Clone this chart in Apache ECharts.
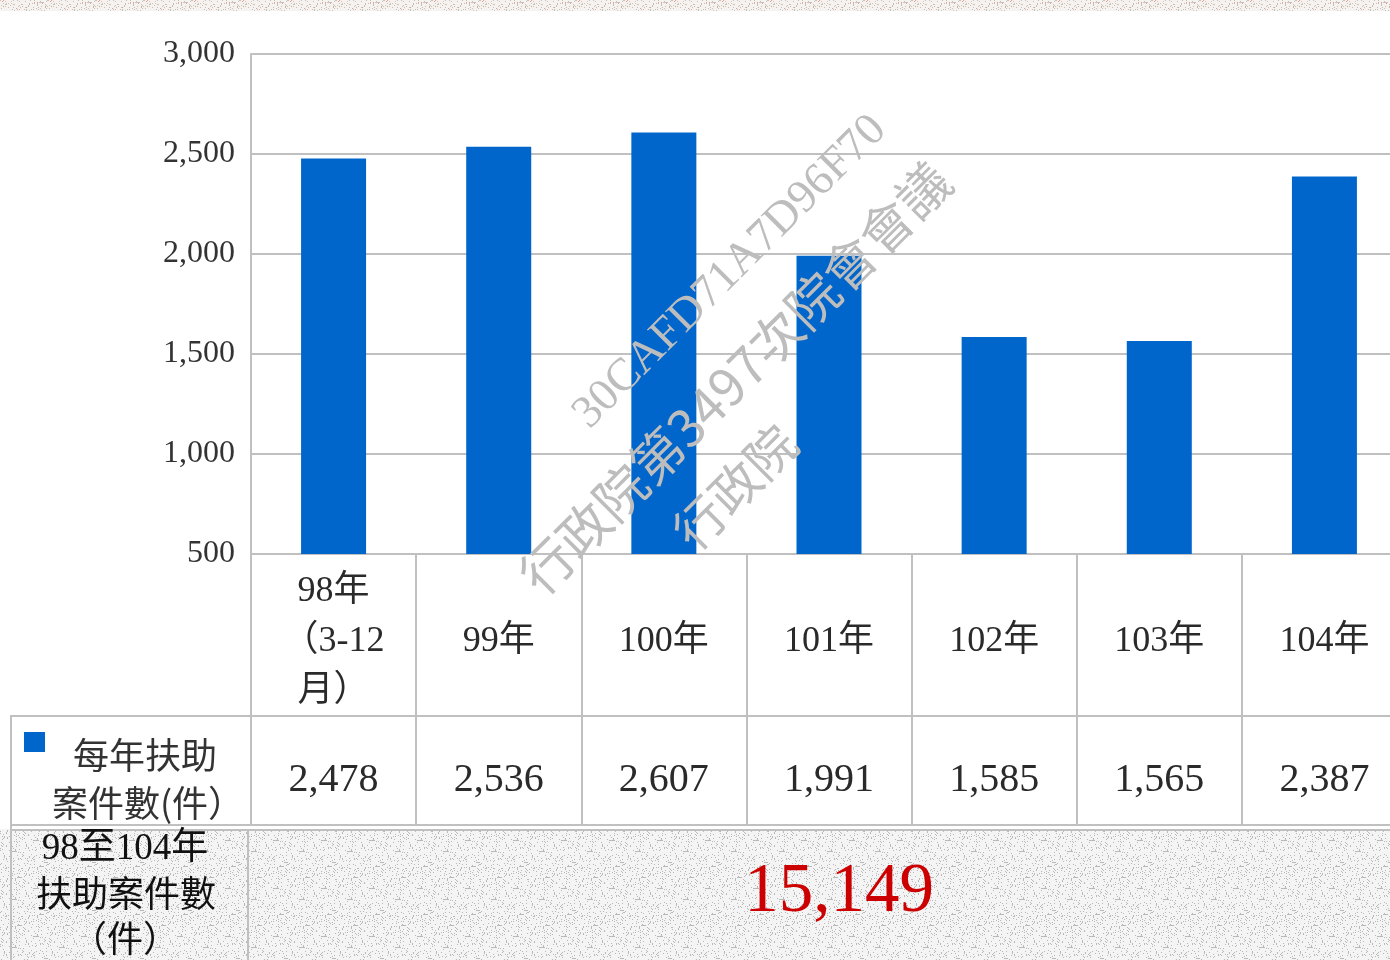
<!DOCTYPE html>
<html><head><meta charset="utf-8">
<script src="https://cdn.jsdelivr.net/npm/echarts@6/dist/echarts.min.js"></script>
<style>html,body{margin:0;padding:0;background:#fff;overflow:hidden;width:1390px;height:960px}#c{width:1410px;height:960px}</style>
</head><body><div id="c"></div>
<script>
const categories = ['98年\n（3-12\n月）', '99年', '100年', '101年', '102年', '103年', '104年'];
const values = [2478, 2536, 2607, 1991, 1585, 1565, 2387];
const yTicks = [500, 1000, 1500, 2000, 2500, 3000];
const seriesName = '每年扶助案件數(件)';
const totalLabel = ['98至104年', '扶助案件數', '（件）'];
const totalValue = 15149;
const watermark = ['30CAFD71A7D96F70', '行政院第3497次院會會議', '行政院'];

const FONT = "'Liberation Serif', 'Noto Sans CJK TC', serif";
const CJK = "'Noto Sans CJK TC', 'Liberation Serif', sans-serif";
const fmt = v => v.toLocaleString('en-US');
const LINE = '#c0c0c0';

// decorative texture
function texture(base, dot, dot2) {
  const c = document.createElement('canvas'); c.width = 48; c.height = 48;
  const g = c.getContext('2d'); g.fillStyle = base; g.fillRect(0, 0, 48, 48);
  for (let y = 0; y < 48; y++) for (let x = 0; x < 48; x++) {
    const h = (x * 37 + y * 91 + ((x * y) % 11) * 7) % 17;
    if (h === 0 || h === 5) { g.fillStyle = dot; g.fillRect(x, y, 1, 1); }
    else if (dot2 && h === 9 && (x + y) % 3 === 0) { g.fillStyle = dot2; g.fillRect(x, y, 1, 1); }
  }
  return c;
}
const greyTex = texture('#f4f4f4', '#b8b8b8');
const topTex = texture('#f6f2ef', '#c8c0bb', '#e0a080');

const chart = echarts.init(document.getElementById('c'), null, {renderer: 'canvas'});
const W = 1410;

const graphics = [
  {type: 'rect', shape: {x: 0, y: 0, width: W, height: 11}, style: {fill: {image: topTex, repeat: 'repeat'}}, z: 0},
  {type: 'rect', shape: {x: 0, y: 829, width: W, height: 131}, style: {fill: {image: greyTex, repeat: 'repeat'}}, z: 0},
  // table lines
  {type: 'line', shape: {x1: 10, y1: 716, x2: W, y2: 716}, style: {stroke: LINE, lineWidth: 2}, z: 5},
  {type: 'line', shape: {x1: 10, y1: 825, x2: W, y2: 825}, style: {stroke: LINE, lineWidth: 2}, z: 5},
  {type: 'line', shape: {x1: 10, y1: 830, x2: W, y2: 830}, style: {stroke: LINE, lineWidth: 2}, z: 5},
  {type: 'line', shape: {x1: 11, y1: 716, x2: 11, y2: 960}, style: {stroke: LINE, lineWidth: 2}, z: 5},
  {type: 'line', shape: {x1: 248, y1: 830, x2: 248, y2: 960}, style: {stroke: LINE, lineWidth: 2}, z: 5},
  // legend key
  {type: 'rect', shape: {x: 24, y: 732, width: 21, height: 20}, style: {fill: '#0066CC'}, z: 6},
  {type: 'text', x: 145, y: 755, style: {text: '每年扶助', font: "36px " + CJK, fill: '#333', align: 'center', verticalAlign: 'middle'}, z: 6},
  {type: 'text', x: 148, y: 803, style: {text: '案件數(件）', font: "36px " + CJK, fill: '#333', align: 'center', verticalAlign: 'middle'}, z: 6},
  // total row
  {type: 'text', x: 125, y: 849, style: {text: totalLabel[0], font: "37px " + FONT, fill: '#111', align: 'center', verticalAlign: 'middle'}, z: 6},
  {type: 'text', x: 126, y: 893, style: {text: totalLabel[1], font: "36px " + CJK, fill: '#111', align: 'center', verticalAlign: 'middle'}, z: 6},
  {type: 'text', x: 125, y: 938, style: {text: totalLabel[2], font: "36px " + CJK, fill: '#111', align: 'center', verticalAlign: 'middle'}, z: 6},
  {type: 'text', x: 839, y: 893, style: {text: fmt(totalValue), font: "69px " + FONT, fill: '#CC0000', align: 'center', verticalAlign: 'middle'}, z: 6},
  // watermark
  {type: 'text', x: 730, y: 272, rotation: Math.PI / 4, style: {text: watermark[0], font: "46px " + FONT, fill: '#bdbdbd', align: 'center', verticalAlign: 'middle'}, z: 20},
  {type: 'text', x: 735, y: 378, rotation: Math.PI / 4, style: {text: watermark[1], font: "52px " + CJK, fill: '#bdbdbd', align: 'center', verticalAlign: 'middle'}, z: 20},
  {type: 'text', x: 735, y: 487, rotation: Math.PI / 4, style: {text: watermark[2], font: "50px " + CJK, fill: '#bdbdbd', align: 'center', verticalAlign: 'middle'}, z: 20}
];

chart.setOption({
  animation: false,
  backgroundColor: '#fff',
  grid: {left: 251, top: 54, width: 1156, height: 500, containLabel: false},
  xAxis: [{
    type: 'category', data: categories, boundaryGap: true,
    axisLine: {show: true, lineStyle: {color: LINE, width: 2}},
    axisTick: {show: true, length: 272, alignWithLabel: false, interval: 0, lineStyle: {color: LINE, width: 2}},
    axisLabel: {interval: 0, margin: 88, verticalAlign: 'middle', fontSize: 36, lineHeight: 50, color: '#2a2a2a', fontFamily: FONT},
    splitLine: {show: false}
  }, {
    type: 'category', data: values.map(fmt), position: 'bottom', offset: 226,
    axisLine: {show: false}, axisTick: {show: false}, splitLine: {show: false},
    axisLabel: {interval: 0, margin: 0, verticalAlign: 'middle', fontSize: 40, color: '#2a2a2a', fontFamily: FONT}
  }],
  yAxis: {
    type: 'value', min: yTicks[0], max: yTicks[yTicks.length - 1], interval: 500,
    axisLine: {show: true, lineStyle: {color: LINE, width: 2}},
    axisTick: {show: false},
    axisLabel: {formatter: v => fmt(v), fontSize: 32, color: '#333', margin: 16, fontFamily: FONT, padding: [7, 0, 0, 0]},
    splitLine: {show: true, lineStyle: {color: LINE, width: 2}}
  },
  series: [{
    name: seriesName, type: 'bar', data: values, barWidth: 65, xAxisIndex: 0,
    itemStyle: {color: '#0066CC'}, z: 3
  }],
  graphic: graphics
});
</script></body></html>
